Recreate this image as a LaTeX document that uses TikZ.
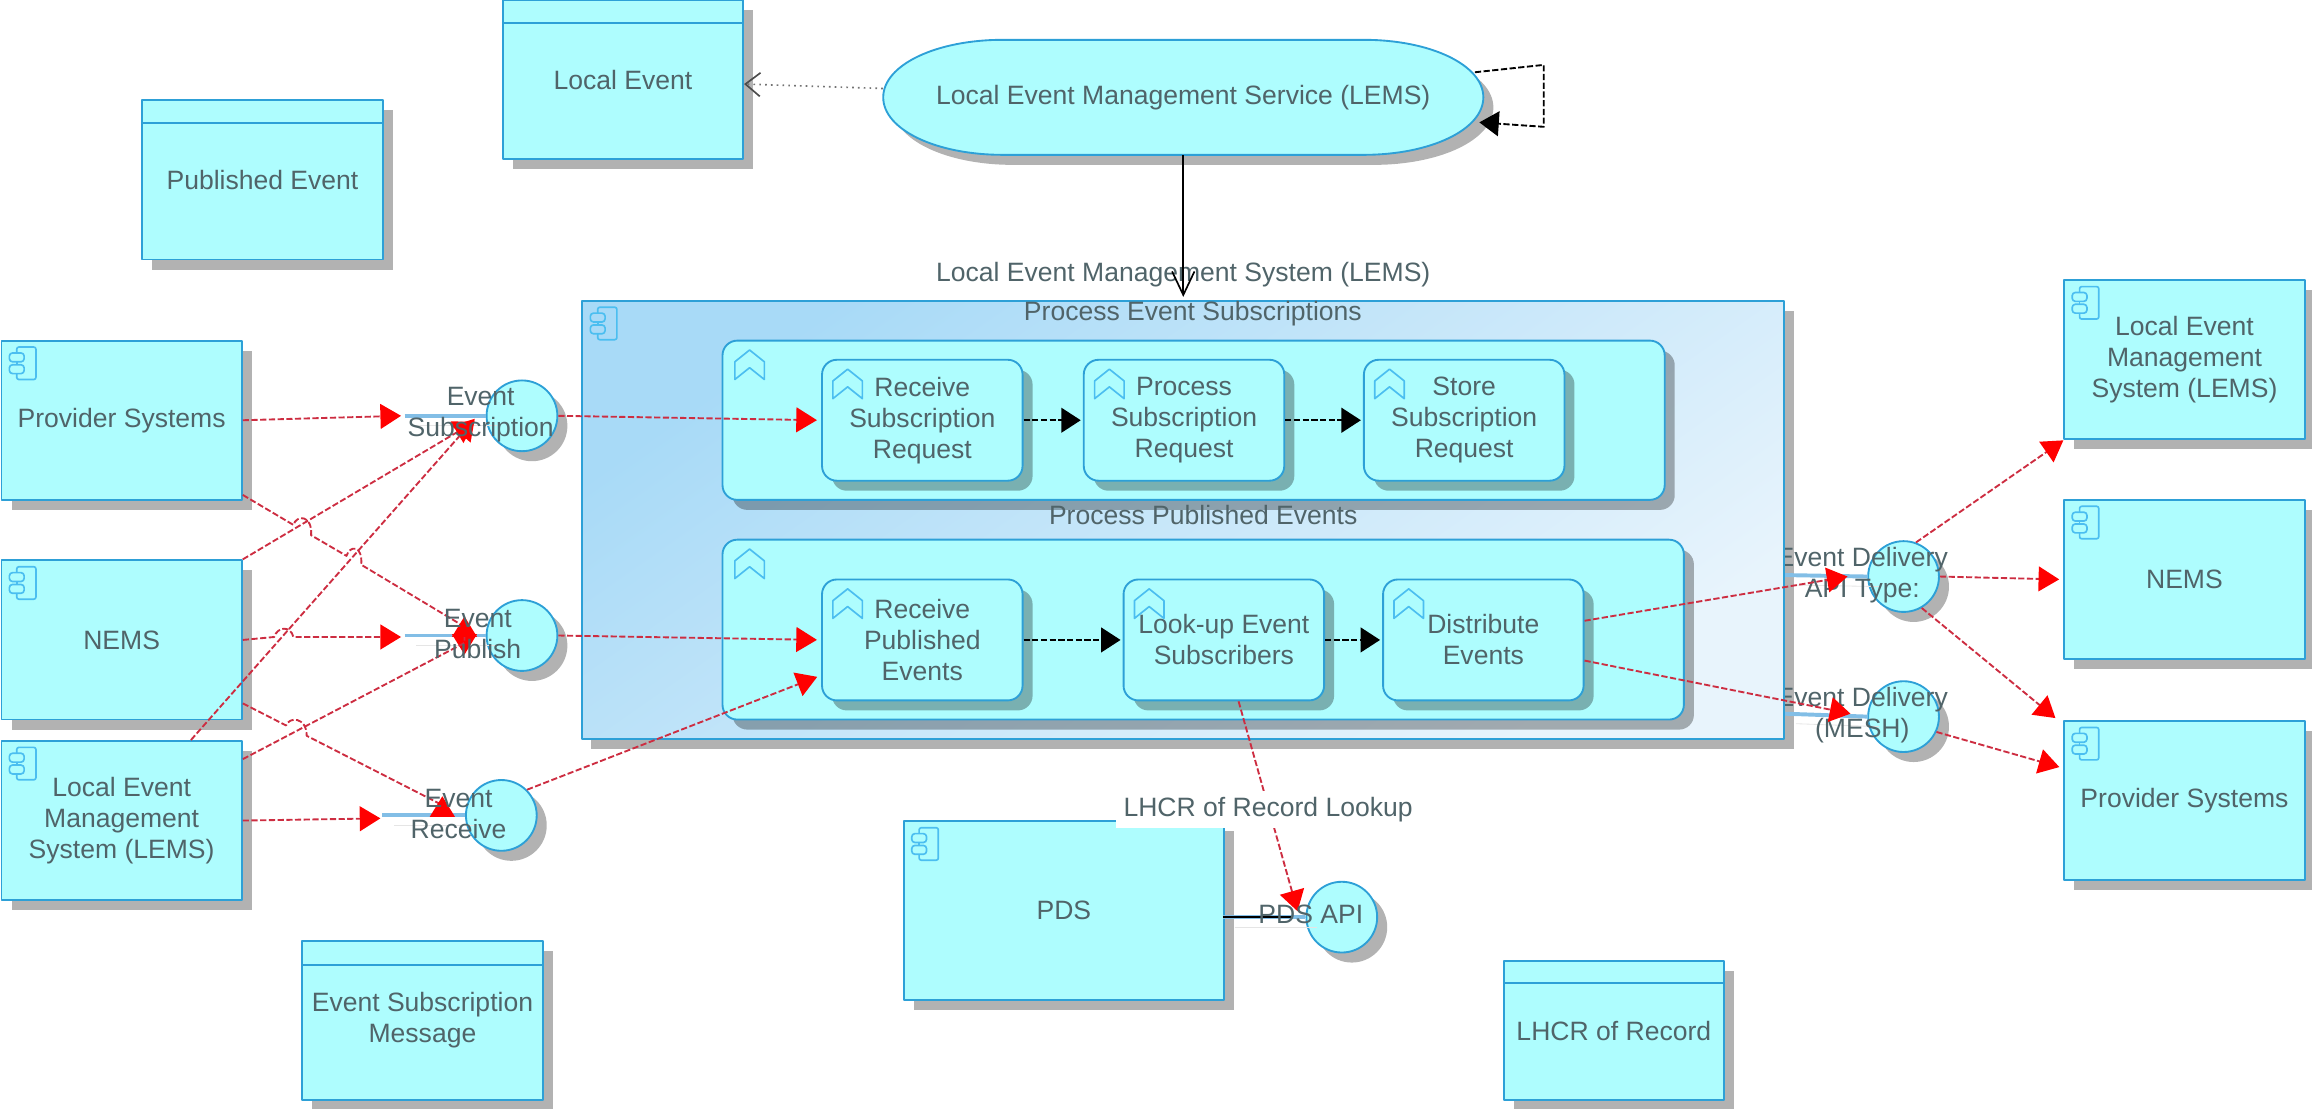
\documentclass[tikz,border=0pt]{standalone}
\usepackage{fontspec}
\setmainfont{Liberation Sans}
\usetikzlibrary{arrows.meta,shadows,calc}
\def\unt{0.025cm}
\definecolor{edgeblue}{RGB}{45,160,215}
\definecolor{iconblue}{RGB}{75,190,240}
\definecolor{cyanfill}{RGB}{174,253,254}
\definecolor{sysA}{RGB}{168,218,247}
\definecolor{sysB}{RGB}{232,244,252}
\definecolor{stubblue}{RGB}{130,190,230}
\definecolor{flowred}{RGB}{205,45,65}
\definecolor{txtgray}{RGB}{80,100,105}
\tikzset{
	softshadow/.style={drop shadow={shadow xshift=.17cm,shadow yshift=-.17cm,opacity=.3,fill=black}},
	boxbase/.style={draw=edgeblue,line width=.9pt,fill=cyanfill,softshadow,align=center,inner sep=0pt},
	compbox/.style={boxbase,minimum width=163*\unt,minimum height=108*\unt},
	datbox/.style={boxbase,minimum width=163*\unt,minimum height=108*\unt},
	grpbox/.style={boxbase,rounded corners=.25cm,minimum height=108*\unt},
	subbox/.style={boxbase,rounded corners=.25cm,minimum width=136*\unt,minimum height=82*\unt},
	ifcirc/.style={boxbase,circle,minimum size=48*\unt},
	lbl/.style={align=center,inner sep=0pt},
	stub/.style={draw=stubblue,line width=1.9pt,preaction={draw=black!10,transform canvas={xshift=.2cm,yshift=-.17cm}}},
	redflow/.style={draw=flowred,line width=.9pt,dash pattern=on 3pt off 1.2pt,-{Triangle[length=.35cm,width=.42cm,color=red]}},
	blkflow/.style={draw=black,line width=.9pt,dash pattern=on 3pt off 1.2pt,-{Triangle[length=.33cm,width=.42cm,color=black]}},
	iconln/.style={draw=iconblue,line width=.8pt},
	compicon/.pic={
		\draw[iconln,rounded corners=1pt] (5,4)--(5,0)--(18,0)--(18,22)--(5,22)--(5,18);
		\draw[iconln] (5,10)--(5,12);
		\draw[iconln,rounded corners=1.5pt] (0,4) rectangle (10,10);
		\draw[iconln,rounded corners=1.5pt] (0,12) rectangle (10,18);
	},
	chevicon/.pic={
		\draw[iconln,line join=round] (0,8)--(10,0)--(20,8)--(20,20)--(10,12)--(0,20)--cycle;
	},
}
\begin{document}
\begin{tikzpicture}[x=.025cm,y=-.025cm,font=\fontsize{12.8}{15}\selectfont,line join=round,>=stealth,every node/.append style={text=txtgray}]
	\useasboundingbox (0,0) rectangle (1568,752);
	\node[datbox] (locEvt) at (422.5,54) {Local Event};
	\node[datbox] (pubEvt) at (178,122) {Published Event};
	\node[datbox] (subMsg) at (286.5,692) {Event Subscription\\Message};
	\node[datbox,minimum width=149*\unt,minimum height=94*\unt] (lhcrRec) at (1094.5,699) {LHCR of Record};
	\foreach \n/\d in {locEvt/16,pubEvt/16,subMsg/17,lhcrRec/15}
		\draw[draw=edgeblue,line width=.9pt] ([yshift=-\d*\unt]\n.north west)--([yshift=-\d*\unt]\n.north east);
	\node[compbox] (provL) at (82.5,285) {Provider Systems};
	\node[compbox] (nemsL) at (82.5,434) {NEMS};
	\node[compbox] (lemsL) at (82.5,556.5) {Local Event\\Management\\System (LEMS)};
	\node[compbox] (lemsR) at (1481.5,244) {Local Event\\Management\\System (LEMS)};
	\node[compbox] (nemsR) at (1481.5,393) {NEMS};
	\node[compbox] (provR) at (1481.5,543) {Provider Systems};
	\node[boxbase,minimum width=217*\unt,minimum height=121*\unt] (pds) at (721.5,617.5) {PDS};
	\path[draw=edgeblue,line width=.9pt,fill=cyanfill,softshadow] (680,27)--(925,27) .. controls (970,27) and (1006,44) .. (1006,66) .. controls (1006,88) and (970,105) .. (925,105)--(680,105) .. controls (635,105) and (599,88) .. (599,66) .. controls (599,44) and (635,27) .. (680,27)--cycle;
	\node[minimum width=407*\unt,minimum height=78*\unt,inner sep=0pt] (lems) at (802.5,66) {Local Event Management Service (LEMS)};
	\node[lbl] (lemsLbl) at (802.5,186) {Local Event Management System (LEMS)};
	\fill[black,opacity=.3] (401,211) rectangle (1217,508);
	\node[ifcirc] (ifApi) at (1291,391) {};
	\node[ifcirc] (ifMesh) at (1291,486) {};
	\draw[stub] (1210,390)--(ifApi.west);
	\draw[stub] (1210,484)--(ifMesh.west);
	\node[lbl] (apiLbl) at (1263,390) {Event Delivery\\API Type:};
	\node[lbl] (meshLbl) at (1263,485) {Event Delivery\\(MESH)};
	\node[draw=edgeblue,line width=.9pt,minimum width=815*\unt,minimum height=297*\unt,left color=sysA,right color=sysB,shading angle=35,inner sep=0pt] (lemsSys) at (802.5,352.5) {};
	\node[lbl] (pesLbl) at (809,213) {Process Event Subscriptions};
	\node[grpbox,minimum width=639*\unt] (grpSub) at (809.5,285) {};
	\node[lbl] (ppeLbl) at (816,349) {Process Published Events};
	\node[grpbox,minimum width=652*\unt,minimum height=122*\unt] (grpPub) at (816,427) {};
	\node[subbox] (rcvSub) at (625.5,285) {Receive\\Subscription\\Request};
	\node[subbox] (prcSub) at (803,285) {Process\\Subscription\\Request};
	\node[subbox] (stoSub) at (993,285) {Store\\Subscription\\Request};
	\node[subbox] (rcvPub) at (625.5,434) {Receive\\Published\\Events};
	\node[subbox] (lkpSub) at (830,434) {Look-up Event\\Subscribers};
	\node[subbox] (dstEvt) at (1006,434) {Distribute\\Events};
	\foreach \n in {provL,nemsL,lemsL,lemsR,nemsR,provR,pds,lemsSys}
		\pic at ([shift={(6,5)}]\n.north west) {compicon};
	\foreach \n in {grpSub,grpPub}
		\pic at ([shift={(9,7)}]\n.north west) {chevicon};
	\foreach \n in {rcvSub,prcSub,stoSub,rcvPub,lkpSub,dstEvt}
		\pic at ([shift={(8,7)}]\n.north west) {chevicon};
	\node[ifcirc] (ifSub) at (354,282) {};
	\node[ifcirc] (ifPub) at (354,431) {};
	\node[ifcirc] (ifRcv) at (340,553) {};
	\node[ifcirc] (ifPds) at (910,622) {};
	\draw[stub] ([xshift=-55*\unt]ifSub.west)--(ifSub.west);
	\draw[stub] ([xshift=-55*\unt]ifPub.west)--(ifPub.west);
	\draw[stub] ([xshift=-56*\unt]ifRcv.west)--(ifRcv.west);
	\draw[stub] ([xshift=-56*\unt]ifPds.west)--(ifPds.west);
	\draw[line width=1.2pt] ([xshift=-56*\unt]ifPds.west)--([xshift=-10*\unt]ifPds.west);
	\coordinate (subTip) at (272,282);
	\coordinate (pubTip) at (272,432);
	\coordinate (rcvTip) at (258,555);
	\draw[redflow] (provL.east)--(subTip);
	\draw[redflow] (nemsL.east)--(186,432) .. controls (188,425) and (197,424) .. (199,432)--(pubTip);
	\draw[redflow] (lemsL.east)--(rcvTip);
	\draw[redflow] ([yshift=4*\unt]provL.south east)--(199,356) .. controls (201,349) and (212,349) .. (211,363)--(235,377) .. controls (237,370) and (246,369) .. (245,383)--(315,425)--(315,444);
	\draw[redflow] (nemsL.north east)--(322,286);
	\draw[redflow] ([xshift=47*\unt]lemsL.north)--(322,284);
	\draw[redflow] ([yshift=-43*\unt]nemsL.east)--(194,492) .. controls (196,486) and (208,486) .. (208,499)--(300,546)--(300,540);
	\draw[redflow] ([yshift=-13*\unt]lemsL.north east)--(315,436)--(315,418);
	\draw[redflow,shorten >=2pt] (ifSub.east)--(rcvSub.west);
	\draw[redflow,shorten >=2pt] (ifPub.east)--(rcvPub.west);
	\draw[redflow,shorten >=2pt] (ifRcv.north east)--([yshift=-24*\unt]rcvPub.west);
	\draw[redflow] ([yshift=13*\unt]dstEvt.east)--(1253,391);
	\draw[redflow] ([yshift=-14*\unt]dstEvt.east)--(1255,484);
	\draw[redflow] (ifApi.70)--(lemsR.south west);
	\draw[redflow,shorten >=2pt] (ifApi.east)--(nemsR.west);
	\draw[redflow] (ifApi.-60)--(1394,487);
	\draw[redflow,shorten >=2pt] (ifMesh.-25)--([yshift=22*\unt]provR.west);
	\draw[redflow] ([xshift=10*\unt]lkpSub.south)--(880,618);
	\draw[blkflow,shorten >=1pt] (rcvSub)--(prcSub);
	\draw[blkflow,shorten >=1pt] (prcSub)--(stoSub);
	\draw[blkflow,shorten >=1pt] (rcvPub)--(lkpSub);
	\draw[blkflow,shorten >=1pt] (lkpSub)--(dstEvt);
	\draw[blkflow] ([shift={(-6,-17)}]lems.east)--(1047,44)--(1047,86)--([shift={(-3,17)}]lems.east);
	\draw[black!55,line width=.8pt,dotted,-{Straight Barb[length=.25cm,width=.4cm,black!70]}] ([yshift=6*\unt]lems.west)--([yshift=-3*\unt]locEvt.east);
	\draw[black,line width=.8pt,-{Straight Barb[length=.4cm,width=.38cm]}] (lems.south)--([yshift=2*\unt]lemsSys.north);
	\node[lbl] (subLbl) at (326,281) {Event\\Subscription};
	\node[lbl] (pubLbl) at (324,430) {Event\\Publish};
	\node[lbl] (rcvLbl) at (311,552) {Event\\Receive};
	\node[lbl] (pdsLbl) at (889,620) {PDS API};
	\node[lbl,fill=white,minimum width=206*\unt,minimum height=25*\unt] (lkpLbl) at (860,549) {LHCR of Record Lookup};
\end{tikzpicture}
\end{document}
